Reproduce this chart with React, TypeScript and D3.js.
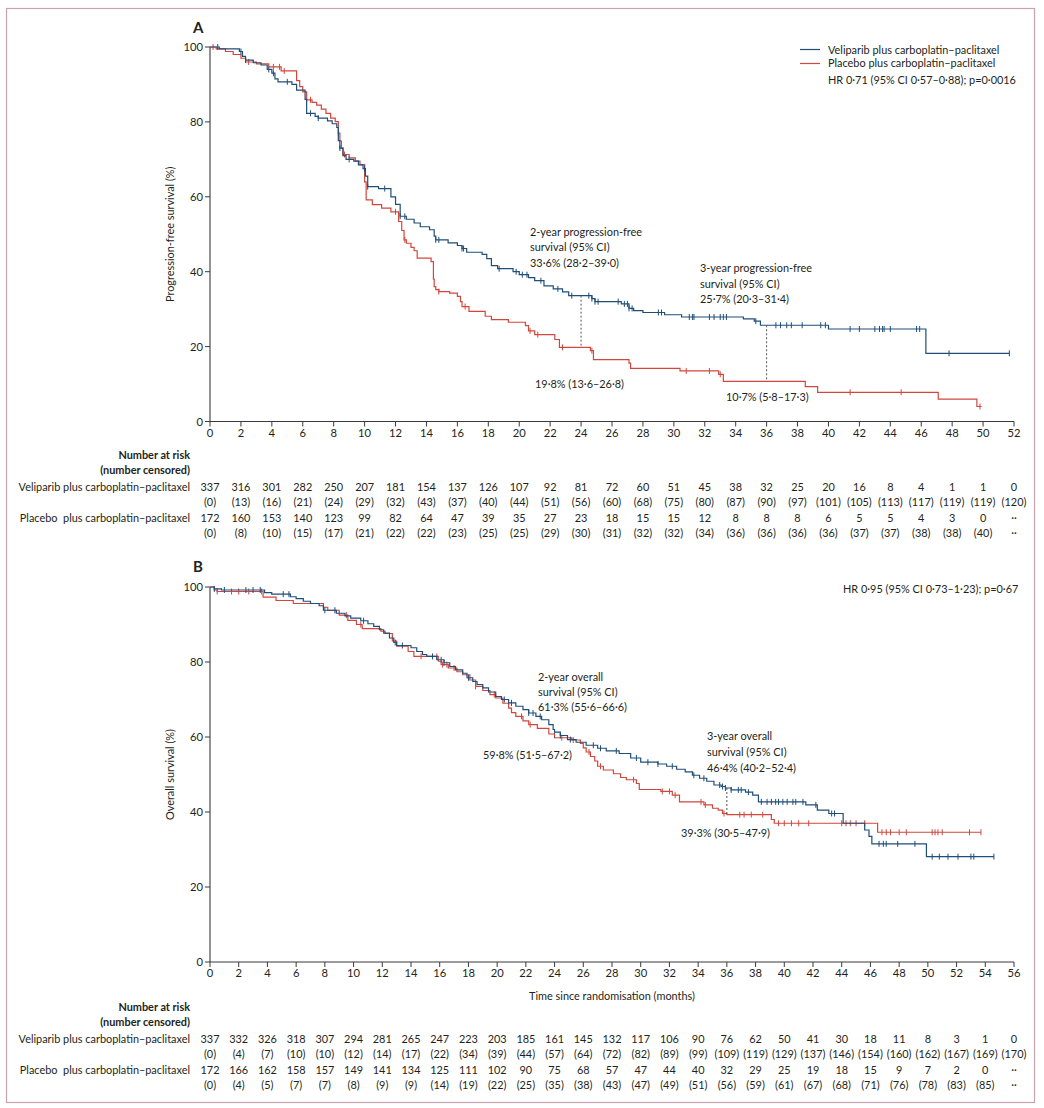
import React from "react";
import * as d3 from "d3";

// ---------- DATA ----------
// Panel A: progression-free survival, steps [month, survival %]
const pfsVeliparib: [number, number][] = [
  [0, 100], [0.6, 99.5], [1.9, 98.8], [2.1, 97.5], [2.3, 96.5], [2.8, 95.8], [3.3, 95.2], [3.7, 94.0],
  [4.0, 93.0], [4.2, 91.5], [4.4, 90.7], [5.3, 90.0], [5.6, 88.5], [6.15, 86], [6.25, 82.3], [6.8, 81.5],
  [7.0, 81.0], [7.6, 80.3], [7.9, 79.5], [8.2, 78.5], [8.3, 75], [8.4, 73], [8.6, 71], [8.8, 70.0],
  [9.3, 69.5], [9.6, 68.5], [9.9, 67.5], [10.05, 65.5], [10.2, 62.7], [10.9, 62.2], [11.7, 60.0], [12.0, 58],
  [12.3, 54.8], [12.7, 54], [13.2, 53], [13.6, 52], [14.2, 51.2], [14.5, 49.5], [14.6, 48.5], [15.4, 47.7],
  [16.0, 47.0], [16.3, 46.2], [16.6, 45.2], [17.6, 44.6], [17.9, 43.5], [18.2, 41.6], [18.6, 40.8], [19.6, 40.0],
  [20.0, 39.2], [20.6, 38.4], [21.0, 37.6], [21.6, 36.2], [22.2, 35.4], [22.8, 34.6], [23.2, 33.6], [24.7, 32.8],
  [24.9, 32.0], [26.6, 31.4], [27.1, 30.2], [27.4, 29.6], [28.0, 29.1], [29.4, 28.5], [30.5, 27.9], [34.5, 27.4],
  [35.2, 26.8], [35.6, 25.7], [40.0, 24.7], [46.3, 18.2],
];
const pfsVeliparibEnd = 51.7;
const pfsVeliparibCensor = [
  0.5, 2.0, 2.3, 3.8, 4.1, 5.0, 6.5, 7.0, 8.4, 9.0, 10.0, 10.2, 11.3, 12.3, 12.6, 14.6, 14.8, 16.3, 16.4,
  18.7, 19.8, 20.2, 20.5, 21.4, 22.5, 23.4, 24.5, 24.7, 24.9, 25.1, 26.4, 26.8, 27.0, 27.1, 27.3, 29.0,
  29.2, 31.0, 31.2, 31.3, 32.3, 32.6, 33.0, 33.2, 33.4, 35.3, 36.6, 36.9, 37.3, 37.6, 38.3, 39.5, 39.8,
  41.4, 42.0, 43.0, 43.3, 43.5, 43.6, 44.0, 45.7, 45.9, 47.8, 51.7,
];
const pfsPlacebo: [number, number][] = [
  [0, 100], [0.4, 99.5], [1.0, 98.8], [1.5, 98.0], [2.0, 97.0], [2.3, 96.0], [3.0, 95.5], [3.8, 94.7],
  [4.6, 93.6], [5.6, 91.0], [5.8, 89.4], [6.0, 88], [6.25, 85.9], [6.6, 85.2], [6.9, 84.5], [7.2, 83.4],
  [7.5, 82.3], [7.8, 81.0], [8.1, 80.1], [8.3, 77], [8.4, 74.9], [8.5, 73], [8.6, 71.3], [9.0, 70.4],
  [9.4, 69.5], [9.7, 68.6], [10.0, 64], [10.1, 59.2], [10.5, 57.9], [11.1, 57], [11.7, 56.0], [12.2, 53.4],
  [12.4, 51], [12.55, 48.5], [12.7, 47.6], [13.0, 46.5], [13.2, 45.6], [13.4, 43.6], [14.3, 42.7], [14.45, 38],
  [14.5, 36.0], [14.6, 35.2], [14.8, 34.7], [15.5, 34.3], [16.0, 33.4], [16.2, 32.0], [16.3, 30.7], [16.75, 29.4],
  [17.8, 28.1], [18.2, 27.2], [19.3, 26.5], [20.4, 25.6], [20.6, 24.2], [21.0, 23.2], [22.3, 21.9], [22.6, 19.8],
  [24.6, 18.9], [24.8, 16.5], [27.1, 15.6], [27.2, 14.2], [30.4, 13.5], [32.9, 12.6], [33.2, 10.7], [38.5, 9.3],
  [39.3, 7.8], [47.1, 6.0], [49.6, 4.0],
];
const pfsPlaceboEnd = 49.9;
const pfsPlaceboCensor = [
  0.2, 2.5, 4.1, 4.5, 4.8, 6.5, 8.3, 8.7, 12.0, 12.6, 14.8, 16.5, 20.7, 21.2, 22.8, 24.7, 30.8, 32.3,
  33.0, 41.4, 44.7, 49.8,
];

// Panel B: overall survival
const osVeliparib: [number, number][] = [
  [0, 100], [0.3, 99.5], [0.8, 99.2], [3.8, 98.5], [4.3, 98.1], [5.6, 97.4], [6.0, 96.9], [6.5, 96.2],
  [7.0, 95.6], [7.6, 95.0], [7.9, 93.8], [8.8, 93.0], [9.4, 92.3], [9.8, 91.7], [10.5, 91.0], [11.0, 90.2],
  [11.4, 89.5], [11.8, 88.6], [12.1, 87.7], [12.5, 86.4], [12.8, 85.2], [13.0, 84.4], [14.0, 83.8], [14.4, 82.8],
  [14.8, 82.0], [15.1, 81.5], [15.8, 80.6], [16.3, 79.8], [16.7, 78.8], [17.1, 77.9], [17.6, 77.0], [17.9, 75.8],
  [18.3, 74.8], [18.6, 74.0], [19.0, 73.1], [19.4, 72.0], [19.9, 70.8], [20.3, 70.0], [20.8, 69.1], [21.3, 68.2],
  [21.8, 67.3], [22.2, 66.4], [22.7, 65.5], [23.1, 64.6], [23.6, 63.3], [23.9, 62.0], [24.0, 61.3], [24.4, 60.4],
  [24.9, 59.3], [25.5, 58.6], [26.2, 57.8], [27.0, 57.0], [27.6, 56.3], [28.5, 55.6], [29.3, 54.4], [30.0, 53.3],
  [31.2, 52.8], [31.8, 52.2], [32.5, 51.4], [33.1, 50.7], [33.6, 49.8], [34.1, 49.0], [34.6, 48.2], [35.1, 47.2],
  [35.6, 46.8], [35.9, 46.4], [36.3, 45.9], [37.3, 45.3], [37.8, 44.5], [38.2, 42.7], [41.5, 41.9], [42.3, 40.5],
  [43.1, 39.6], [44.1, 37.0], [45.6, 35.2], [45.9, 33.5], [46.1, 31.5], [49.9, 28.1],
];
const osVeliparibEnd = 54.6;
const osVeliparibCensor = [
  0.3, 1.0, 2.5, 3.0, 3.5, 5.1, 5.5, 8.0, 8.7, 10.7, 12.9, 13.4, 15.5, 16.1, 16.3, 18.0, 20.5, 21.0, 22.2,
  22.5, 23.0, 24.4, 25.1, 26.7, 27.2, 28.3, 29.7, 30.5, 31.2, 32.2, 33.7, 34.4, 35.5, 35.7, 35.9, 36.3,
  36.8, 37.0, 37.5, 38.4, 38.8, 39.1, 39.4, 39.6, 39.9, 40.2, 40.6, 40.8, 41.3, 42.2, 43.3, 43.5, 46.6,
  46.9, 47.1, 47.9, 49.1, 50.3, 50.8, 51.4, 52.1, 53.0, 53.2, 54.6,
];
const osPlacebo: [number, number][] = [
  [0, 100], [0.3, 99.2], [0.5, 98.8], [3.7, 97.3], [4.6, 96.4], [5.8, 95.6], [7.9, 94.6], [8.2, 93.8],
  [9.0, 92.5], [9.6, 91.1], [10.2, 90.0], [10.6, 88.9], [11.9, 88.2], [12.2, 87.6], [12.7, 85.6], [13.0, 84.2],
  [13.8, 82.8], [14.2, 81.5], [15.9, 80.2], [16.1, 79.3], [16.6, 78.4], [17.2, 77.4], [17.6, 76.6], [18.1, 75.2],
  [18.5, 73.5], [19.0, 72.4], [19.5, 71.3], [19.9, 70.4], [20.4, 69.0], [20.8, 67.7], [21.0, 66.5], [21.3, 65.5],
  [21.8, 64.3], [22.2, 63.3], [22.8, 62.3], [23.6, 60.8], [24.0, 59.8], [25.2, 59.2], [25.8, 58.3], [26.0, 57.1],
  [26.2, 56.0], [26.5, 54.8], [26.8, 53.6], [27.0, 52.2], [27.4, 51.2], [28.1, 50.2], [28.6, 49.2], [29.0, 48.6],
  [29.7, 47.6], [29.9, 46.0], [31.4, 45.5], [32.2, 44.5], [32.7, 42.7], [34.4, 41.9], [35.0, 41.0], [35.4, 40.5],
  [35.7, 39.6], [36.0, 39.3], [39.1, 38.0], [39.3, 37.0], [46.5, 34.6],
];
const osPlaceboEnd = 53.7;
const osPlaceboCensor = [
  0.5, 1.5, 2.0, 2.7, 3.6, 9.5, 10.5, 14.7, 15.8, 16.2, 16.5, 17.0, 18.5, 19.8, 21.7, 22.3, 24.5, 25.3,
  26.4, 27.2, 29.5, 31.5, 32.0, 32.4, 34.2, 34.5, 35.8, 36.9, 37.2, 37.7, 38.5, 39.6, 40.0, 40.5, 41.0,
  41.7, 44.0, 44.3, 44.6, 45.0, 45.6, 46.8, 47.1, 47.4, 48.0, 48.5, 50.3, 50.5, 50.7, 51.0, 52.9, 53.7,
];

// Number at risk tables
const pfsRiskVeliparib = [337, 316, 301, 282, 250, 207, 181, 154, 137, 126, 107, 92, 81, 72, 60, 51, 45, 38, 32, 25, 20, 16, 8, 4, 1, 1, 0];
const pfsCensVeliparib = [0, 13, 16, 21, 24, 29, 32, 43, 37, 40, 44, 51, 56, 60, 68, 75, 80, 87, 90, 97, 101, 105, 113, 117, 119, 119, 120];
const pfsRiskPlacebo = ["172", "160", "153", "140", "123", "99", "82", "64", "47", "39", "35", "27", "23", "18", "15", "15", "12", "8", "8", "8", "6", "5", "5", "4", "3", "0", "··"];
const pfsCensPlacebo = ["0", "8", "10", "15", "17", "21", "22", "22", "23", "25", "25", "29", "30", "31", "32", "32", "34", "36", "36", "36", "36", "37", "37", "38", "38", "40", "··"];

const osRiskVeliparib = [337, 332, 326, 318, 307, 294, 281, 265, 247, 223, 203, 185, 161, 145, 132, 117, 106, 90, 76, 62, 50, 41, 30, 18, 11, 8, 3, 1, 0];
const osCensVeliparib = [0, 4, 7, 10, 10, 12, 14, 17, 22, 34, 39, 44, 57, 64, 72, 82, 89, 99, 109, 119, 129, 137, 146, 154, 160, 162, 167, 169, 170];
const osRiskPlacebo = ["172", "166", "162", "158", "157", "149", "141", "134", "125", "111", "102", "90", "75", "68", "57", "47", "44", "40", "32", "29", "25", "19", "18", "15", "9", "7", "2", "0", "··"];
const osCensPlacebo = ["0", "4", "5", "7", "7", "8", "9", "9", "14", "19", "22", "25", "35", "38", "43", "47", "49", "51", "56", "59", "61", "67", "68", "71", "76", "78", "83", "85", "··"];

const yTicks = [0, 20, 40, 60, 80, 100];
const pfsXMax = 52;
const osXMax = 56;

// ---------- STYLE ----------
const FONT = "Lato, 'Open Sans', sans-serif";
const FS = 10.9;
const BLUE = "#1f4e78";
const RED = "#d2473d";
const AXIS = "#3a3a3a";
const TEXT = "#231f20";

function survAt(steps: [number, number][], t: number) {
  let s = steps[0][1];
  for (const [tt, v] of steps) {
    if (tt <= t) s = v;
    else break;
  }
  return s;
}

function Curve({ steps, end, censor, x, y, color }: any) {
  const pts: [number, number][] = [...steps, [end, steps[steps.length - 1][1]]];
  const line = d3
    .line<[number, number]>()
    .x((d) => x(d[0]))
    .y((d) => y(d[1]))
    .curve(d3.curveStepAfter);
  return (
    <g>
      <path d={line(pts) || ""} fill="none" stroke={color} strokeWidth={1.2} />
      {censor.map((c: number, i: number) => {
        const cx = x(c);
        const cy = y(survAt(steps, c));
        return <line key={i} x1={cx} x2={cx} y1={cy - 3} y2={cy + 3} stroke={color} strokeWidth={1} />;
      })}
    </g>
  );
}

function Panel({ top, bottom, xMax, velSteps, velEnd, velCens, plaSteps, plaEnd, plaCens, yLabel, tickLabelY }: any) {
  const x = d3.scaleLinear().domain([0, xMax]).range([210, 1014]);
  const y = d3.scaleLinear().domain([0, 100]).range([bottom, top]);
  const xTicks = d3.range(0, xMax + 1, 2);
  return (
    <g>
      <line x1={x(0)} x2={x(0)} y1={y(0)} y2={y(100)} stroke={AXIS} strokeWidth={1.1} />
      <line x1={x(0)} x2={x(xMax)} y1={y(0)} y2={y(0)} stroke={AXIS} strokeWidth={1.1} />
      {yTicks.map((t) => (
        <g key={t}>
          <line x1={x(0) - 5} x2={x(0)} y1={y(t)} y2={y(t)} stroke={AXIS} strokeWidth={1} />
          <text x={x(0) - 7} y={y(t) + 4} textAnchor="end" fontSize={11.2} fill={TEXT}>
            {t}
          </text>
        </g>
      ))}
      {xTicks.map((t) => (
        <g key={t}>
          <line x1={x(t)} x2={x(t)} y1={y(0)} y2={y(0) + 5} stroke={AXIS} strokeWidth={1} />
          <text x={x(t)} y={tickLabelY} textAnchor="middle" fontSize={11.2} fill={TEXT}>
            {t}
          </text>
        </g>
      ))}
      <text
        transform={`translate(174,${(top + bottom) / 2}) rotate(-90)`}
        textAnchor="middle"
        fontSize={FS}
        fill={TEXT}
      >
        {yLabel}
      </text>
      <Curve steps={plaSteps} end={plaEnd} censor={plaCens} x={x} y={y} color={RED} />
      <Curve steps={velSteps} end={velEnd} censor={velCens} x={x} y={y} color={BLUE} />
    </g>
  );
}

function RiskTable({ xMax, top, rv, cv, rp, cp }: any) {
  const x = d3.scaleLinear().domain([0, xMax]).range([210, 1014]);
  const xTicks = d3.range(0, xMax + 1, 2);
  const rows = [
    { vals: rv.map(String), yy: top + 32 },
    { vals: cv.map((v: any) => (v === "··" ? "··" : `(${v})`)), yy: top + 47 },
    { vals: rp, yy: top + 63 },
    { vals: cp.map((v: any) => (v === "··" ? "··" : `(${v})`)), yy: top + 78 },
  ];
  return (
    <g fontSize={FS} fill={TEXT}>
      <text x={190} y={top} textAnchor="end" fontWeight="bold">Number at risk</text>
      <text x={190} y={top + 15} textAnchor="end" fontWeight="bold">(number censored)</text>
      <text x={190} y={top + 32} textAnchor="end">Veliparib plus carboplatin–paclitaxel</text>
      <text x={190} y={top + 63} textAnchor="end" xmlSpace="preserve">Placebo  plus carboplatin–paclitaxel</text>
      {rows.map((r, ri) =>
        r.vals.map((v: string, i: number) => (
          <text key={`${ri}-${i}`} x={x(xTicks[i])} y={r.yy} textAnchor="middle">
            {v}
          </text>
        ))
      )}
    </g>
  );
}

export default function App() {
  const yA = d3.scaleLinear().domain([0, 100]).range([421.5, 47]);
  const yB = d3.scaleLinear().domain([0, 100]).range([962, 587]);
  const xA = d3.scaleLinear().domain([0, pfsXMax]).range([210, 1014]);
  const xB = d3.scaleLinear().domain([0, osXMax]).range([210, 1014]);
  return (
    <svg
      width={1044}
      height={1108}
      style={{ position: "absolute", left: 0, top: 0, background: "#fff" }}
      fontFamily={FONT}
    >
      <rect x={0} y={0} width={1044} height={1108} fill="#fff" />
      <rect x={6.5} y={8.5} width={1028} height={1094} fill="none" stroke="#c9a3ad" strokeWidth={1.2} />

      {/* Panel A */}
      <text x={193} y={33} fontSize={15} fontWeight="bold" fill={TEXT}>A</text>
      <Panel
        top={47}
        bottom={421.5}
        xMax={pfsXMax}
        velSteps={pfsVeliparib}
        velEnd={pfsVeliparibEnd}
        velCens={pfsVeliparibCensor}
        plaSteps={pfsPlacebo}
        plaEnd={pfsPlaceboEnd}
        plaCens={pfsPlaceboCensor}
        yLabel="Progression-free survival (%)"
        tickLabelY={437}
      />
      <line x1={xA(24)} x2={xA(24)} y1={yA(33.6)} y2={yA(19.8)} stroke="#555" strokeDasharray="2,2" />
      <line x1={xA(36)} x2={xA(36)} y1={yA(25.7)} y2={yA(10.7)} stroke="#555" strokeDasharray="2,2" />
      <g fontSize={FS} fill={TEXT}>
        <line x1={800} x2={820} y1={49.5} y2={49.5} stroke={BLUE} strokeWidth={1.2} />
        <line x1={800} x2={820} y1={63.5} y2={63.5} stroke={RED} strokeWidth={1.2} />
        <text x={828} y={53.5}>Veliparib plus carboplatin–paclitaxel</text>
        <text x={828} y={67}>Placebo plus carboplatin–paclitaxel</text>
        <text x={828} y={84}>HR 0·71 (95% CI 0·57–0·88); p=0·0016</text>

        <text x={530} y={236}>2-year progression-free</text>
        <text x={530} y={251}>survival (95% CI)</text>
        <text x={530} y={267}>33·6% (28·2–39·0)</text>
        <text x={700} y={272}>3-year progression-free</text>
        <text x={700} y={288}>survival (95% CI)</text>
        <text x={700} y={303}>25·7% (20·3–31·4)</text>
        <text x={535} y={388}>19·8% (13·6–26·8)</text>
        <text x={726} y={401}>10·7% (5·8–17·3)</text>
      </g>
      <RiskTable xMax={pfsXMax} top={459} rv={pfsRiskVeliparib} cv={pfsCensVeliparib} rp={pfsRiskPlacebo} cp={pfsCensPlacebo} />

      {/* Panel B */}
      <text x={193} y={572} fontSize={15} fontWeight="bold" fill={TEXT}>B</text>
      <Panel
        top={587}
        bottom={962}
        xMax={osXMax}
        velSteps={osVeliparib}
        velEnd={osVeliparibEnd}
        velCens={osVeliparibCensor}
        plaSteps={osPlacebo}
        plaEnd={osPlaceboEnd}
        plaCens={osPlaceboCensor}
        yLabel="Overall survival (%)"
        tickLabelY={977}
      />
      <line x1={xB(24)} x2={xB(24)} y1={yB(61.3)} y2={yB(59.8)} stroke="#555" strokeDasharray="2,2" />
      <line x1={xB(36)} x2={xB(36)} y1={yB(46.4)} y2={yB(39.3)} stroke="#555" strokeDasharray="2,2" />
      <g fontSize={FS} fill={TEXT}>
        <text x={843} y={593}>HR 0·95 (95% CI 0·73–1·23); p=0·67</text>
        <text x={538} y={681}>2-year overall</text>
        <text x={538} y={696}>survival (95% CI)</text>
        <text x={538} y={711}>61·3% (55·6–66·6)</text>
        <text x={483} y={759}>59·8% (51·5–67·2)</text>
        <text x={707} y={740}>3-year overall</text>
        <text x={707} y={756}>survival (95% CI)</text>
        <text x={707} y={772}>46·4% (40·2–52·4)</text>
        <text x={681} y={837}>39·3% (30·5–47·9)</text>
        <text x={612} y={1000} textAnchor="middle">Time since randomisation (months)</text>
      </g>
      <RiskTable xMax={osXMax} top={1011} rv={osRiskVeliparib} cv={osCensVeliparib} rp={osRiskPlacebo} cp={osCensPlacebo} />
    </svg>
  );
}
